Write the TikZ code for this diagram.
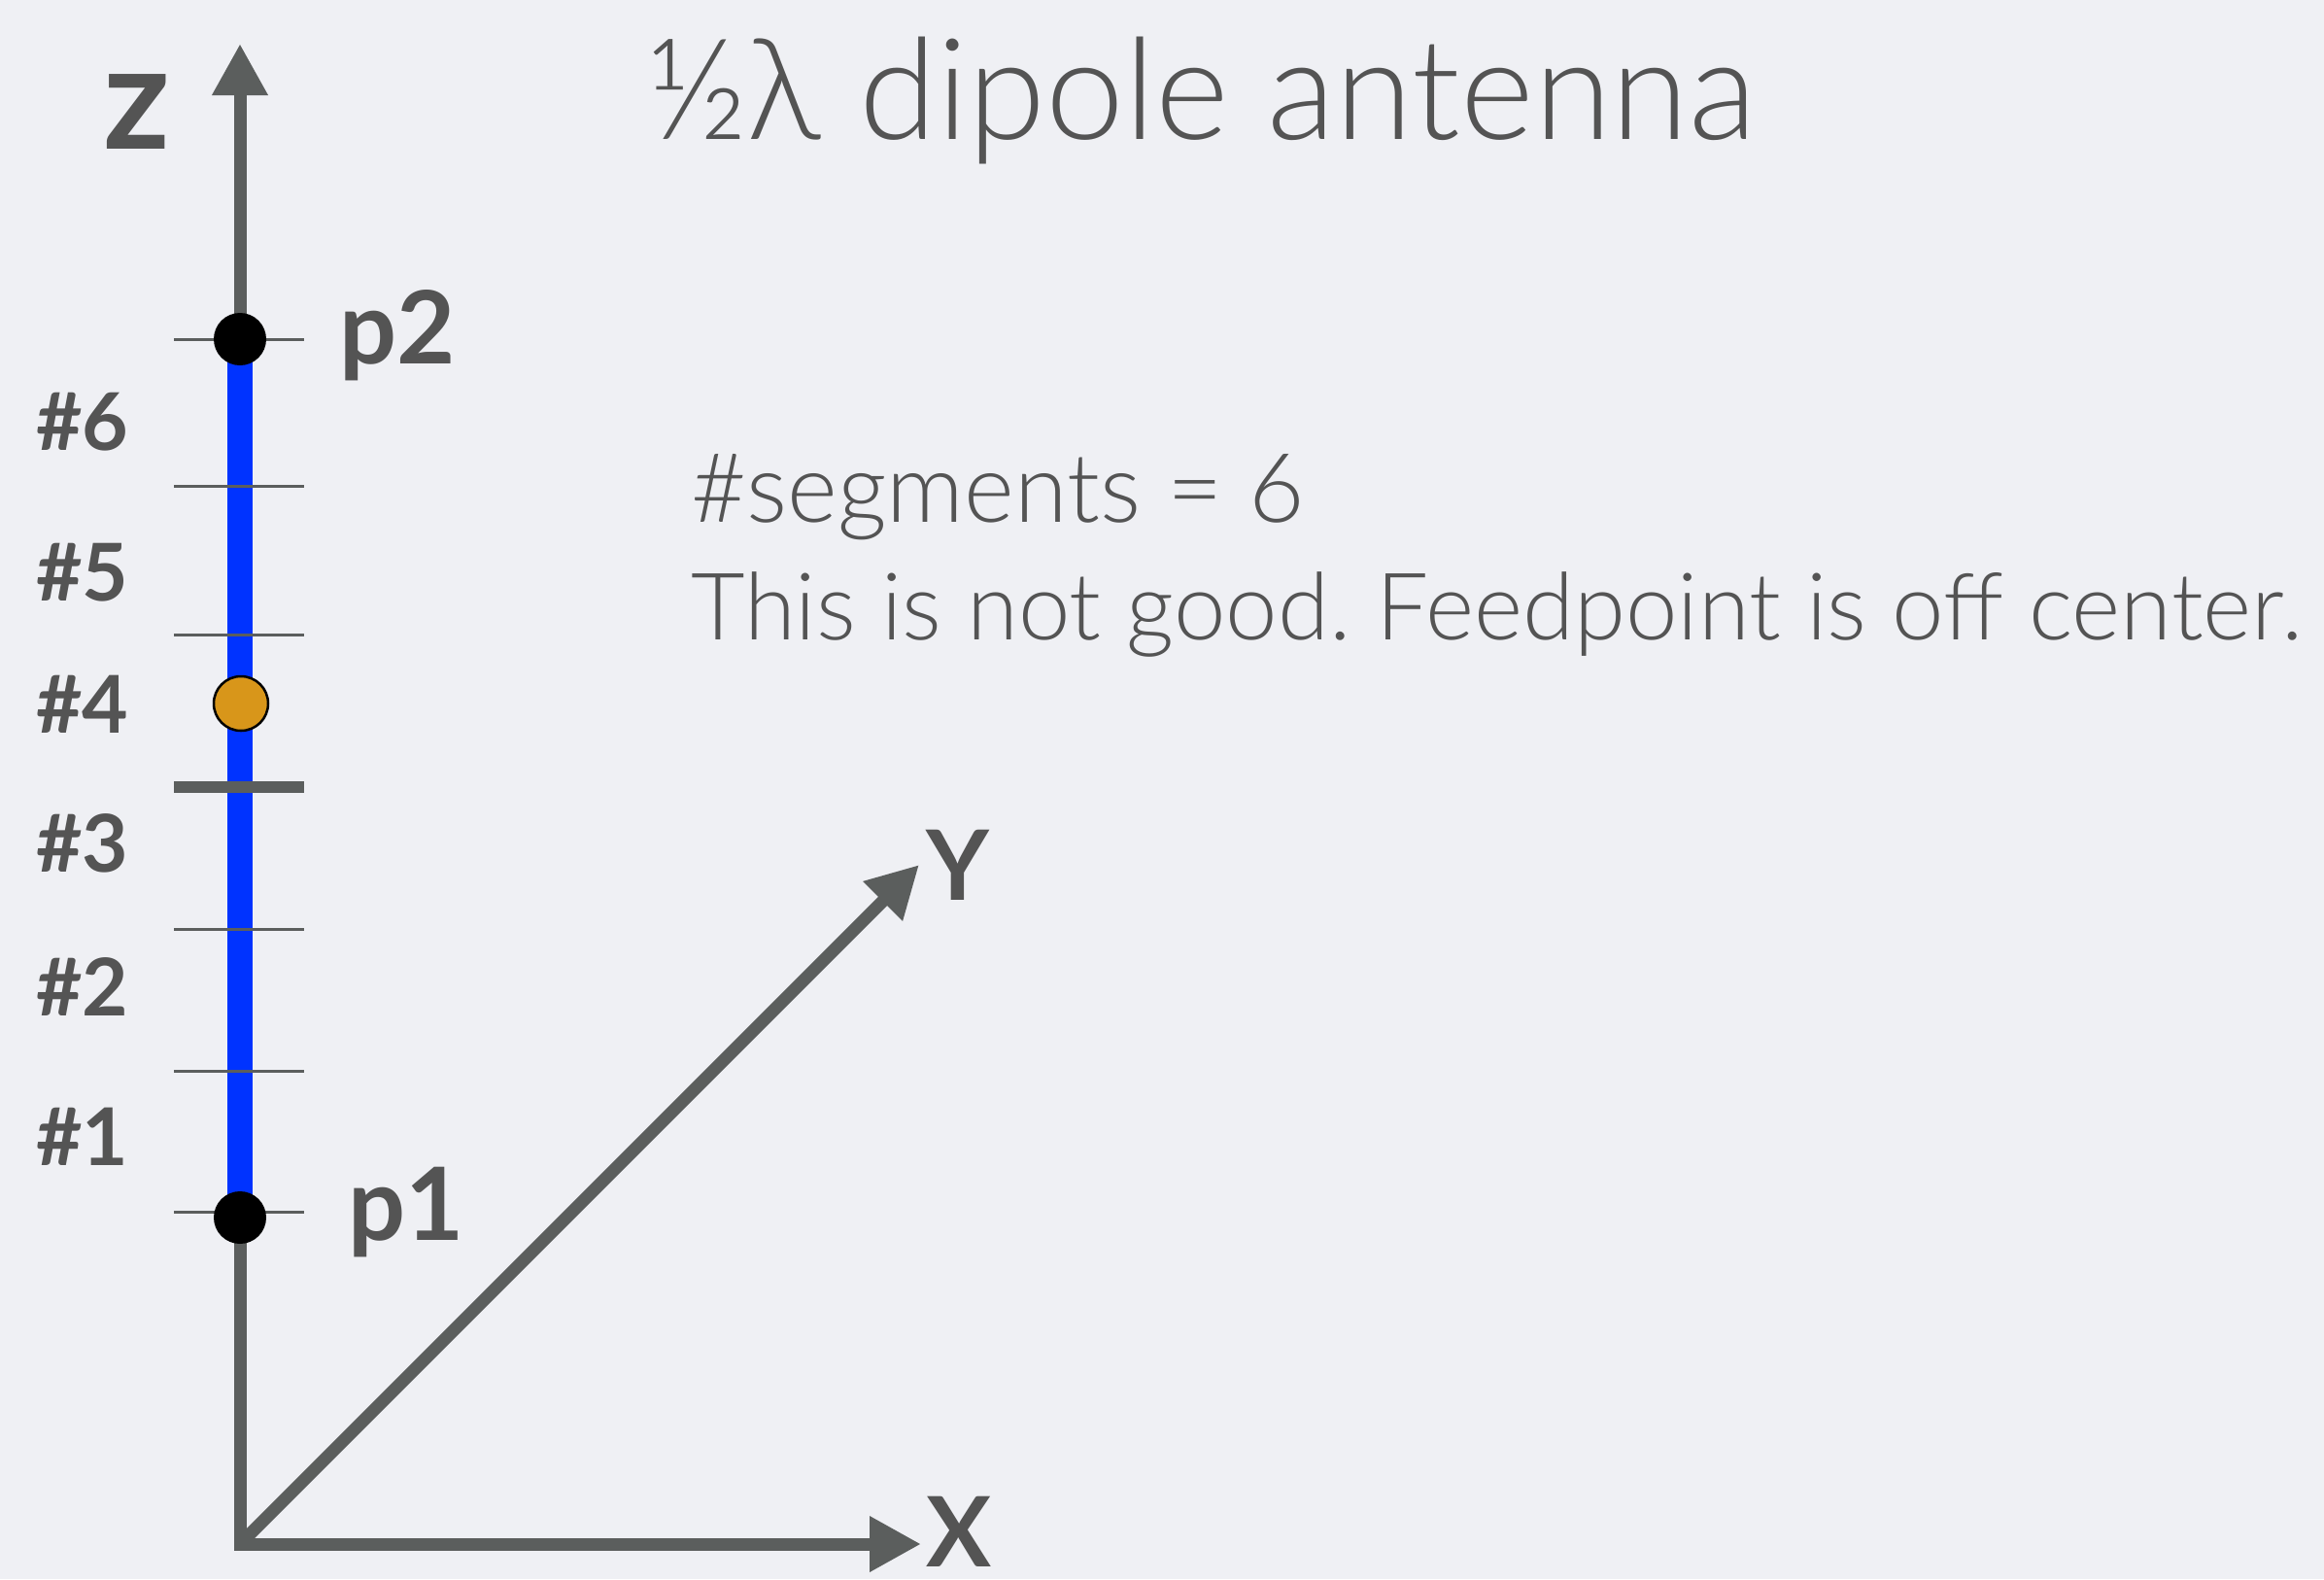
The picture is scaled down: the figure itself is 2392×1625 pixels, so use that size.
\documentclass[tikz,border=0pt]{standalone}
\usepackage{fontspec}
\setmainfont{Lato}
\newfontfamily\lightfont{Lato Light}
\usetikzlibrary{arrows.meta}
\definecolor{bg}{HTML}{EFF0F4}
\definecolor{axisgray}{HTML}{5B5E5D}
\definecolor{txtgray}{HTML}{545454}
\definecolor{antblue}{HTML}{0033FF}
\definecolor{feedorange}{HTML}{D8961A}
\begin{document}
\frenchspacing
\begin{tikzpicture}[x=1pt,y=-1pt,
  axis/.style={draw=axisgray, line width=13pt},
  tip/.tip={Triangle[length=53pt,width=54pt]},
  thintick/.style={draw=axisgray, line width=3pt},
  thicktick/.style={draw=axisgray, line width=12.5pt},
  dipole/.style={draw=antblue, line width=26pt},
  enddot/.style={circle, fill=black, minimum size=54pt, inner sep=0pt},
  feeddot/.style={circle, fill=feedorange, draw=black, line width=2.5pt, minimum size=56pt, inner sep=0pt},
  seglbl/.style={anchor=base west, inner sep=0pt, text=txtgray, font=\bfseries\fontsize{82}{84}\selectfont},
  ptlbl/.style={anchor=base west, inner sep=0pt, text=txtgray, font=\bfseries\fontsize{104}{110}\selectfont},
  axlbl/.style={anchor=base west, inner sep=0pt, text=txtgray, font=\bfseries\fontsize{100}{110}\selectfont},
  lighttxt/.style={anchor=base west, inner sep=0pt, text=txtgray},
]
\fill[bg] (0,0) rectangle (2392,1625);
\useasboundingbox (0,0) rectangle (2392,1625);

% axes
\coordinate (O) at (247,1589);
\coordinate (ztip) at (247,45);
\coordinate (xtip) at (948,1589);
\coordinate (ytip) at (946,890);
\draw[axis, line join=miter, tip-tip] (ztip) -- (O) -- (xtip);
\draw[axis, -tip] (O) -- (ytip);

% dipole
\coordinate (c2) at (247,349);
\coordinate (c1) at (247,1253);
\draw[dipole] (c2) -- (c1);

% segment ticks
\foreach \yy/\nm in {349/t6,500/t5,653/t4,956/t2,1102/t1,1247/t0}{
  \coordinate (\nm l) at (179,\yy);
  \coordinate (\nm r) at (313,\yy);
  \draw[thintick] (\nm l) -- (\nm r);
}
\coordinate (t3l) at (179,810);
\coordinate (t3r) at (313,810);
\draw[thicktick] (t3l) -- (t3r);

% points
\node[enddot] (p2) at (c2) {};
\node[enddot] (p1) at (c1) {};
\node[feeddot] (feed) at (248,724) {};

% labels
\node[axlbl, font=\bfseries\fontsize{150}{155}\selectfont] (zl) at (106,153) {z};
\node[ptlbl] (p2l) at (349,374) {p2};
\node[ptlbl] (p1l) at (358,1276) {p1};
\node[seglbl] (s6) at (37,463) {\#6};
\node[seglbl] (s5) at (37,618) {\#5};
\node[seglbl] (s4) at (37,754) {\#4};
\node[seglbl] (s3) at (37,897) {\#3};
\node[seglbl] (s2) at (37,1045) {\#2};
\node[seglbl] (s1) at (37,1199) {\#1};
\node[axlbl] (yl) at (953,926) {Y};
\node[axlbl] (xl) at (953,1612) {X};

% texts
\node[lighttxt, font=\lightfont\fontsize{145}{150}\selectfont] (title) at (665,143) {½λ dipole antenna};
\node[lighttxt, font=\lightfont\fontsize{99}{110}\selectfont] (seg) at (711,537) {\#segments = 6};
\node[lighttxt, font=\lightfont\fontsize{96}{110}\selectfont] (note) at (711,658) {This is not good. Feedpoint is off center.};
\end{tikzpicture}
\end{document}
